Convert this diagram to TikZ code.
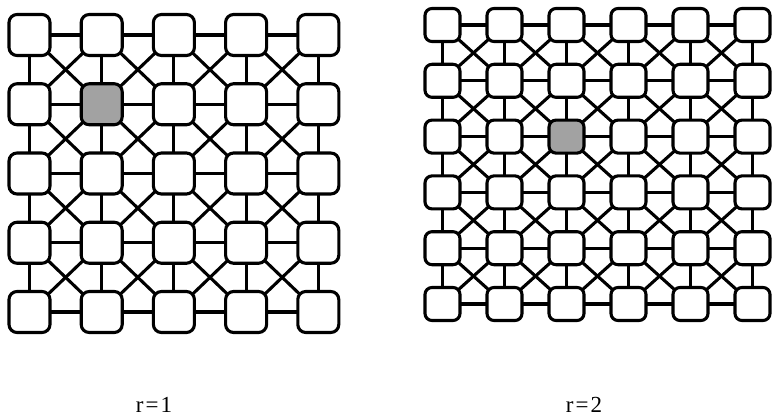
\documentclass[tikz,border=0pt]{standalone}
\usepackage{fontspec}
\setmainfont{Liberation Serif}
\usetikzlibrary{backgrounds}
\definecolor{shade}{HTML}{A2A2A2}
\begin{document}
\begin{tikzpicture}[x=1pt,y=-1pt,
  cellL/.style={draw, line width=3.1pt, rounded corners=8pt, minimum width=41pt, minimum height=41pt, inner sep=0pt},
  cellR/.style={draw, line width=3.1pt, rounded corners=7pt, minimum width=35pt, minimum height=33pt, inner sep=0pt},
  link/.style={line width=3.1pt},
  lbl/.style={font=\fontsize{23}{27}\selectfont, inner sep=0pt}]
\useasboundingbox (0,0) rectangle (773,417);
% left grid (r=1)
\foreach \i in {0,...,4} \foreach \j in {0,...,4} {
  \pgfmathtruncatemacro\hi{(\i==1)&&(\j==1)}
  \ifnum\hi=1 \def\fc{shade}\else\def\fc{white}\fi
  \node[cellL, fill=\fc] (L-\i-\j) at ({29.5+72.2*\i},{35+69.25*\j}) {};
}
% right grid (r=2)
\foreach \i in {0,...,5} \foreach \j in {0,...,5} {
  \pgfmathtruncatemacro\hi{(\i==2)&&(\j==2)}
  \ifnum\hi=1 \def\fc{shade}\else\def\fc{white}\fi
  \node[cellR, fill=\fc] (R-\i-\j) at ({442.5+62*\i},{25+55.8*\j}) {};
}
\begin{scope}[on background layer]
  \foreach \i in {0,...,4} \foreach \j in {0,...,3} {
    \pgfmathtruncatemacro\jj{\j+1}
    \draw[link] (L-\i-\j.center) -- (L-\i-\jj.center);
    \draw[link] (L-\j-\i.center) -- (L-\jj-\i.center);
  }
  \foreach \i in {0,...,3} \foreach \j in {0,...,3} {
    \pgfmathtruncatemacro\ii{\i+1}
    \pgfmathtruncatemacro\jj{\j+1}
    \draw[link] (L-\i-\j.center) -- (L-\ii-\jj.center);
    \draw[link] (L-\ii-\j.center) -- (L-\i-\jj.center);
  }
  \foreach \i in {0,...,5} \foreach \j in {0,...,4} {
    \pgfmathtruncatemacro\jj{\j+1}
    \draw[link] (R-\i-\j.center) -- (R-\i-\jj.center);
    \draw[link] (R-\j-\i.center) -- (R-\jj-\i.center);
  }
  \foreach \i in {0,...,4} \foreach \j in {0,...,4} {
    \pgfmathtruncatemacro\ii{\i+1}
    \pgfmathtruncatemacro\jj{\j+1}
    \draw[link] (R-\i-\j.center) -- (R-\ii-\jj.center);
    \draw[link] (R-\ii-\j.center) -- (R-\i-\jj.center);
  }
\end{scope}
\node[lbl] (r1) at (154,405) {r\kern2pt=\kern2pt1};
\node[lbl] (r2) at (584,405) {r\kern2pt=\kern2pt2};
\end{tikzpicture}
\end{document}
